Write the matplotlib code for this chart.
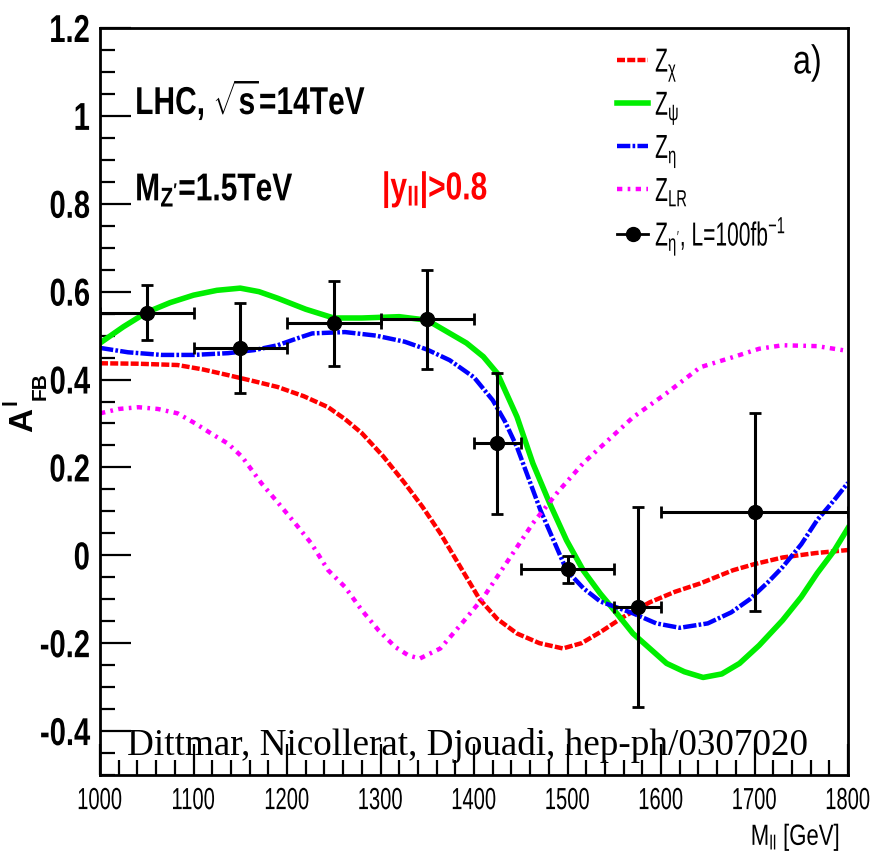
import matplotlib
matplotlib.use("Agg")
import matplotlib.pyplot as plt
from matplotlib import patheffects
from matplotlib.transforms import Affine2D
from matplotlib.ticker import MultipleLocator
from matplotlib.lines import Line2D

# curves (GeV, A_FB)
chi_x = [1000, 1040, 1083, 1110, 1137, 1165, 1190, 1218, 1244, 1262, 1280, 1303, 1326, 1345, 1364, 1385,
         1406, 1425, 1446, 1470, 1495, 1515, 1535, 1560, 1588, 1615, 1642, 1677, 1700, 1730, 1765, 1800]
chi_y = [0.437, 0.436, 0.433, 0.423, 0.41, 0.396, 0.383, 0.362, 0.337, 0.31, 0.278, 0.225, 0.164, 0.11, 0.05, -0.025,
         -0.10, -0.145, -0.178, -0.20, -0.212, -0.20, -0.175, -0.14, -0.107, -0.083, -0.064, -0.034, -0.02, -0.005, 0.005, 0.012]

psi_x = [1000, 1025, 1050, 1075, 1100, 1125, 1150, 1170, 1190, 1220, 1250, 1280, 1320, 1350, 1392, 1410, 1425,
         1446, 1463, 1481, 1499, 1517, 1535, 1553, 1570, 1606, 1625, 1645, 1665, 1684, 1705, 1730, 1750, 1767, 1785, 1800]
psi_y = [0.483, 0.52, 0.553, 0.575, 0.592, 0.603, 0.608, 0.60, 0.585, 0.56, 0.540, 0.540, 0.543, 0.535, 0.483, 0.452, 0.414,
         0.315, 0.209, 0.118, 0.034, -0.035, -0.087, -0.133, -0.178, -0.246, -0.265, -0.278, -0.27, -0.246, -0.205, -0.148, -0.095, -0.041, 0.01, 0.062]

eta_x = [1000, 1030, 1066, 1100, 1137, 1165, 1190, 1210, 1227, 1262, 1295, 1326, 1350, 1374, 1400, 1420, 1433,
         1446, 1471, 1499, 1517, 1535, 1570, 1595, 1620, 1650, 1675, 1695, 1715, 1730, 1750, 1767, 1785, 1800]
eta_y = [0.472, 0.462, 0.456, 0.456, 0.46, 0.467, 0.478, 0.493, 0.505, 0.508, 0.50, 0.486, 0.468, 0.444, 0.405, 0.353, 0.305,
         0.246, 0.103, -0.034, -0.075, -0.105, -0.132, -0.155, -0.165, -0.155, -0.13, -0.10, -0.06, -0.027, 0.025, 0.08, 0.125, 0.165]

lr_x = [1000, 1020, 1041, 1062, 1083, 1102, 1119, 1137, 1152, 1173, 1191, 1209, 1226, 1244, 1262, 1280, 1298, 1316,
        1330, 1342, 1364, 1387, 1410, 1437, 1463, 1490, 1517, 1545, 1570, 1606, 1642, 1677, 1705, 1730, 1767, 1800]
lr_y = [0.323, 0.333, 0.337, 0.333, 0.323, 0.30, 0.277, 0.254, 0.224, 0.163, 0.118, 0.072, 0.027, -0.034, -0.072, -0.125, -0.171, -0.209,
        -0.228, -0.235, -0.212, -0.155, -0.096, -0.01, 0.073, 0.145, 0.21, 0.265, 0.314, 0.369, 0.428, 0.451, 0.47, 0.478, 0.476, 0.465]

# Z_eta pseudo-data, L=100 fb^-1
pt_x = [1050, 1150, 1250, 1350, 1425, 1500, 1575, 1700]
pt_xerr = [50, 50, 50, 50, 25, 50, 25, 100]
pt_y = [0.552, 0.472, 0.528, 0.537, 0.255, -0.032, -0.118, 0.098]
pt_yerr = [0.062, 0.102, 0.097, 0.112, 0.16, 0.031, 0.227, 0.225]


class Condense(patheffects.AbstractPathEffect):
    # squeeze text sideways, like the narrow Helvetica of the original
    def __init__(self, sx, anchor="left"):
        super().__init__()
        self.sx = sx
        self.anchor = anchor

    def draw_path(self, renderer, gc, tpath, affine, rgbFace=None):
        xs = tpath.vertices[:, 0]
        if self.anchor == "right":
            x0 = xs.max()
        elif self.anchor == "center":
            x0 = 0.5 * (xs.min() + xs.max())
        else:
            x0 = 0.0
        tr = Affine2D().translate(-x0, 0).scale(self.sx, 1).translate(x0, 0) + affine
        renderer.draw_path(gc, tpath, tr, rgbFace)


sans = "Liberation Sans"
plt.rcParams["font.family"] = [sans, "DejaVu Sans"]
plt.rcParams["mathtext.fontset"] = "custom"
plt.rcParams["mathtext.rm"] = sans
plt.rcParams["mathtext.it"] = sans
plt.rcParams["mathtext.bf"] = sans + ":bold"

fig = plt.figure(figsize=(8.75, 8.65), dpi=100)
ax = fig.add_axes([100 / 875, 90 / 865, 748 / 875, 747 / 865])

red_st = dict(color="red", lw=3.2, dashes=(1.8, 0.5))
green_st = dict(color="#00ee00", lw=4.0)
blue_st = dict(color="blue", lw=3.2, dashes=(3.0, 0.5, 0.6, 0.5))
mag_st = dict(color="magenta", lw=3.2, dashes=(1.2, 1.2, 0.6, 1.2))

ax.plot(chi_x, chi_y, **red_st)
ax.plot(psi_x, psi_y, **green_st)
ax.plot(eta_x, eta_y, **blue_st)
ax.plot(lr_x, lr_y, **mag_st)
ax.errorbar(pt_x, pt_y, xerr=pt_xerr, yerr=pt_yerr, fmt="o", color="black",
            ms=10, elinewidth=2.2, capsize=4, capthick=2)

ax.set_xlim(1000, 1800)
ax.set_ylim(-0.5, 1.2)
ax.xaxis.set_major_locator(MultipleLocator(100))
ax.xaxis.set_minor_locator(MultipleLocator(20))
ax.yaxis.set_major_locator(MultipleLocator(0.2))
ax.yaxis.set_minor_locator(MultipleLocator(0.05))
ax.yaxis.set_major_formatter(plt.FuncFormatter(lambda v, p: "%g" % round(v, 2)))
ax.tick_params(which="both", direction="in", top=False, right=False, width=1.6)
ax.tick_params(which="major", length=22)
ax.tick_params(which="minor", length=11)
ax.tick_params(axis="x", labelsize=22, pad=8)
ax.tick_params(axis="y", labelsize=28, pad=7)
for t in ax.get_yticklabels():
    t.set_fontweight("bold")
    t.set_path_effects([Condense(0.75, "right")])
for t in ax.get_xticklabels():
    t.set_path_effects([Condense(0.66, "center")])
for s in ax.spines.values():
    s.set_linewidth(2)

txt = [
    ax.text(0.047, 0.904, r"LHC, $\mathbf{\sqrt{s}}$=14TeV", transform=ax.transAxes,
            fontsize=28, fontweight="bold", va="center"),
    ax.text(0.047, 0.783, r"M$_{\mathbf{Z'}}$=1.5TeV", transform=ax.transAxes,
            fontsize=28, fontweight="bold", va="center"),
    ax.text(0.377, 0.783, r"|y$_{\mathbf{ll}}$|>0.8", transform=ax.transAxes,
            fontsize=28, fontweight="bold", color="red", va="center"),
]
for t in txt:
    t.set_path_effects([Condense(0.77)])
ax.text(0.946, 0.954, "a)", transform=ax.transAxes, fontsize=29, ha="center", va="center",
        path_effects=[Condense(0.8, "center")])
ax.text(0.491, 0.04, "Dittmar, Nicollerat, Djouadi, hep-ph/0307020", transform=ax.transAxes,
        fontsize=26.7, family="Liberation Serif", ha="center", va="center")

fig.text(840 / 875, 1 - 837 / 865, r"M$_{ll}$ [GeV]", fontsize=21, ha="right", va="center",
         path_effects=[Condense(0.76, "right")])

# y title A_FB^l, drawn in three pieces like the ROOT original
fig.text(24 / 875, 1 - 420 / 865, "A", fontsize=24, fontweight="bold",
         rotation=90, ha="center", va="center")
fig.text(40 / 875, 1 - 386 / 865, "FB", fontsize=15, fontweight="bold",
         rotation=90, ha="center", va="center")
fig.text(11 / 875, 1 - 402 / 865, "l", fontsize=15, fontweight="bold",
         rotation=90, ha="center", va="center")

handles = [
    Line2D([], [], **red_st),
    Line2D([], [], **green_st),
    Line2D([], [], **blue_st),
    Line2D([], [], **mag_st),
    Line2D([], [], color="black", lw=2, marker="o", ms=10),
]
labels = [r"Z$_{\chi}$", r"Z$_{\psi}$", r"Z$_{\eta}$", r"Z$_{LR}$", r"Z$_{\eta'}$, L=100fb$^{-1}$"]
leg = ax.legend(handles, labels, loc="upper left", bbox_to_anchor=(0.673, 0.993), frameon=False,
                fontsize=24, handlelength=0.95, handletextpad=0.2, labelspacing=0.17,
                borderaxespad=0)
for t in leg.get_texts():
    t.set_path_effects([Condense(0.63)])

fig.savefig("out.png", dpi=100)
